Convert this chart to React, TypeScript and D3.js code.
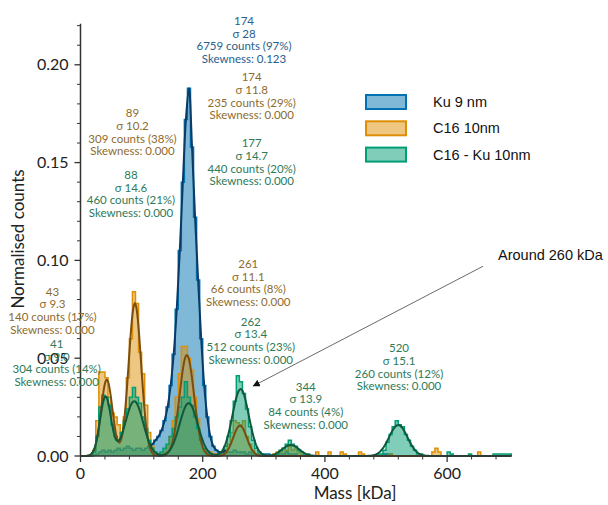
import React from 'react'
import * as d3 from 'd3'

// histogram bins, 5 kDa wide, starting at 0 kDa
const binStarts = d3.range(0, 705, 5)
const binEnd = 705

const kuCounts = [
  0, 0, 0, 0, 0.0005, 0.001, 0.002, 0.003, 0.002, 0.003,
  0.002, 0.003, 0.004, 0.003, 0.004, 0.005, 0.004, 0.003, 0.004, 0.004,
  0.003, 0.004, 0.005, 0.006, 0.008, 0.010, 0.013, 0.018, 0.025, 0.036,
  0.052, 0.075, 0.105, 0.140, 0.172, 0.188, 0.158, 0.122, 0.090, 0.060,
  0.036, 0.020, 0.010, 0.005, 0.003, 0.002, 0.002, 0.003, 0.002, 0.002,
  0.003, 0.002, 0.002, 0.002, 0.001, 0.002, 0.001, 0.001, 0.001, 0.001,
  0.001, 0.001, 0, 0, 0.001, 0.001, 0.001, 0.002, 0.001, 0.001,
  0.001, 0, 0, 0, 0, 0, 0, 0, 0, 0,
  0, 0, 0, 0, 0, 0, 0, 0, 0, 0,
  0, 0, 0, 0, 0, 0, 0, 0, 0, 0.001,
  0.001, 0.001, 0, 0, 0, 0, 0, 0, 0, 0,
  0, 0, 0, 0, 0, 0, 0, 0, 0, 0,
  0, 0, 0, 0, 0, 0, 0, 0, 0, 0,
  0, 0, 0, 0, 0, 0, 0, 0, 0, 0,
  0,
]

const c16Counts = [
  0, 0, 0, 0, 0.003, 0.018, 0.043, 0.043, 0.040, 0.030,
  0.022, 0.020, 0.016, 0.012, 0.020, 0.040, 0.060, 0.084, 0.078, 0.053,
  0.042, 0.026, 0.012, 0.005, 0.002, 0.001, 0.001, 0.002, 0.005, 0.010,
  0.018, 0.030, 0.042, 0.056, 0.056, 0.050, 0.044, 0.030, 0.019, 0.008,
  0.003, 0.002, 0.002, 0.001, 0.001, 0, 0.001, 0.003, 0.006, 0.012,
  0.018, 0.017, 0.016, 0.018, 0.010, 0.006, 0.003, 0.001, 0, 0,
  0, 0, 0, 0.001, 0.002, 0.002, 0.004, 0.003, 0.005, 0.003,
  0.004, 0.002, 0.001, 0, 0, 0, 0, 0.002, 0, 0,
  0, 0.002, 0, 0, 0, 0.002, 0.001, 0, 0, 0,
  0, 0.002, 0.001, 0, 0, 0, 0, 0, 0, 0,
  0, 0.001, 0, 0, 0, 0, 0, 0, 0, 0,
  0, 0, 0, 0, 0, 0.002, 0.004, 0.002, 0, 0,
  0, 0, 0, 0, 0, 0, 0, 0, 0, 0,
  0.002, 0, 0, 0, 0, 0, 0, 0, 0, 0,
  0,
]

const mixCounts = [
  0, 0, 0, 0, 0.002, 0.010, 0.025, 0.031, 0.030, 0.026,
  0.016, 0.010, 0.008, 0.012, 0.018, 0.024, 0.030, 0.035, 0.030, 0.027,
  0.020, 0.014, 0.008, 0.004, 0.002, 0.001, 0.002, 0.004, 0.006, 0.010,
  0.014, 0.020, 0.025, 0.030, 0.038, 0.030, 0.026, 0.020, 0.014, 0.008,
  0.004, 0.002, 0.001, 0, 0, 0.001, 0.002, 0.005, 0.010, 0.018,
  0.028, 0.041, 0.038, 0.032, 0.024, 0.015, 0.008, 0.004, 0.002, 0.001,
  0, 0, 0, 0, 0.001, 0.003, 0.004, 0.006, 0.008, 0.006,
  0.005, 0.003, 0.002, 0.001, 0.001, 0, 0, 0, 0, 0,
  0, 0, 0, 0, 0, 0, 0, 0, 0, 0,
  0, 0, 0, 0, 0, 0, 0, 0.001, 0.001, 0.003,
  0.007, 0.011, 0.015, 0.018, 0.016, 0.015, 0.011, 0.008, 0.005, 0.003,
  0.001, 0.001, 0, 0, 0, 0, 0, 0, 0, 0,
  0.002, 0.001, 0, 0, 0, 0, 0, 0.001, 0, 0,
  0, 0, 0, 0, 0, 0.001, 0.001, 0.001, 0.001, 0.001,
  0.001,
]

// Gaussian fit results (mean, sigma, peak height)
const c16Mean = [43, 89, 174, 261]
const c16Sigma = ['9.3', '10.2', '11.8', '11.1']
const c16Peak = [0.039, 0.078, 0.0516, 0.0155]
const c16Num = [140, 309, 235, 66]
const c16Pct = [17, 38, 29, 8]

const mixMean = [41, 88, 177, 262, 344, 520]
const mixSigma = ['9.0', '14.6', '14.7', '13.4', '13.9', '15.1']
const mixPeak = [0.0303, 0.028, 0.027, 0.0342, 0.0056, 0.0158]
const mixNum = [304, 460, 440, 512, 84, 260]
const mixPct = [14, 21, 20, 23, 4, 12]

const kuMean = 174
const kuSigma = '28'
const kuNum = 6759
const kuPct = 97
const kuSkew = '0.123'

const legendNames = ['Ku 9 nm', 'C16 10nm', 'C16 - Ku 10nm']

const colors = ['#0173b2', '#de8f05', '#029e73']
const fitColors = ['#0c3a66', '#7a4d10', '#10583c']
const textColors = ['#2a5d8c', '#8d6b2e', '#2d7a58']

const x = d3.scaleLinear().domain([0, 705]).range([80.5, 511.3])
const y = d3.scaleLinear().domain([0, 0.221]).range([456, 23.7])

function stepPts(counts: number[]): [number, number][] {
  const pts: [number, number][] = [[0, 0]]
  counts.forEach((c, i) => pts.push([binStarts[i], c]))
  pts.push([binEnd, counts[counts.length - 1]])
  pts.push([binEnd, 0])
  return pts
}

const stepArea = d3.area<[number, number]>()
  .x(d => x(d[0])).y0(y(0)).y1(d => y(d[1])).curve(d3.curveStepAfter)
const stepLine = d3.line<[number, number]>()
  .x(d => x(d[0])).y(d => y(d[1])).curve(d3.curveStepAfter)

function fitPath(mean: number[], sigma: string[], peak: number[]) {
  const xs = d3.range(0, 705.5, 1)
  const pts: [number, number][] = xs.map(v => {
    let s = 0
    mean.forEach((m, i) => {
      const sd = +sigma[i]
      s += peak[i] * Math.exp(-0.5 * ((v - m) / sd) ** 2)
    })
    return [v, s]
  })
  return d3.line<[number, number]>().x(d => x(d[0])).y(d => y(d[1]))(pts)
}

// blue fit follows the main Ku peak
const kuFitPts: [number, number][] = binStarts
  .map((b, i) => [b + 2.5, kuCounts[i]] as [number, number])
  .filter(d => d[0] > 110 && d[0] < 240)
const kuFit = d3.line<[number, number]>().x(d => x(d[0])).y(d => y(d[1]))
  .curve(d3.curveCatmullRom)(kuFitPts)

// annotation anchors in data units (x kDa, y of first line)
const annos = [
  { lines: [`${kuMean}`, `σ ${kuSigma}`, `${kuNum} counts (${kuPct}%)`, `Skewness: ${kuSkew}`], ax: 267.6, ay: 0.2224, c: 0 },
  ...c16Mean.map((m, i) => ({
    lines: [`${m}`, `σ ${c16Sigma[i]}`, `${c16Num[i]} counts (${c16Pct[i]}%)`, 'Skewness: 0.000'],
    ax: [-45.8, 85.1, 280.2, 274.6][i], ay: [0.084, 0.1752, 0.1936, 0.0982][i], c: 1,
  })),
  ...mixMean.map((m, i) => ({
    lines: [`${m}`, `σ ${mixSigma[i]}`, `${mixNum[i]} counts (${mixPct[i]}%)`, 'Skewness: 0.000'],
    ax: [-39, 82.6, 280.2, 278.7, 368.7, 521.3][i], ay: [0.0573, 0.1437, 0.1599, 0.0687, 0.0354, 0.0551][i], c: 2,
  })),
]

const xMajor = [0, 200, 400, 600]
const xMinor = d3.range(40, 705, 40).filter(v => v % 200 !== 0)
const yMajor = [0, 0.05, 0.1, 0.15, 0.2]
const yMinor = d3.range(1, 23).map(v => v / 100).filter(v => Math.round(v * 100) % 5 !== 0)

export default function App() {
  const series = [kuCounts, c16Counts, mixCounts]
  const font = 'Lato, "Open Sans", sans-serif'
  const axisColor = '#333'
  return (
    <svg width={608} height={505} style={{ position: 'absolute', left: 0, top: 0, background: '#fff' }}
      fontFamily={font}>
      <defs>
        <marker id="arrowhead" viewBox="0 0 10 10" refX="9" refY="5" markerWidth="9" markerHeight="9" orient="auto-start-reverse">
          <path d="M0,0 L10,5 L0,10 z" fill="#111" />
        </marker>
      </defs>

      {series.map((s, i) => (
        <g key={i}>
          <path d={stepArea(stepPts(s)) || ''} fill={colors[i]} fillOpacity={0.5} />
          <path d={stepLine(stepPts(s)) || ''} fill="none" stroke={colors[i]} strokeWidth={1.5} />
        </g>
      ))}

      <path d={kuFit || ''} fill="none" stroke={fitColors[0]} strokeWidth={2} />
      <path d={fitPath(c16Mean, c16Sigma, c16Peak) || ''} fill="none" stroke={fitColors[1]} strokeWidth={2} />
      <path d={fitPath(mixMean, mixSigma, mixPeak) || ''} fill="none" stroke={fitColors[2]} strokeWidth={2} />

      {/* axes */}
      <line x1={x(0)} x2={x(0)} y1={y(0)} y2={y(0.221)} stroke={axisColor} strokeWidth={1.5} />
      <line x1={x(0)} x2={x(705)} y1={y(0)} y2={y(0)} stroke={axisColor} strokeWidth={1.5} />
      {xMajor.map(v => (
        <g key={v}>
          <line x1={x(v)} x2={x(v)} y1={y(0)} y2={y(0) + 6} stroke={axisColor} strokeWidth={1.3} />
          <text x={x(v)} y={y(0) + 23} textAnchor="middle" fontSize={16} fill="#222">{v}</text>
        </g>
      ))}
      {xMinor.map(v => (
        <line key={v} x1={x(v)} x2={x(v)} y1={y(0)} y2={y(0) + 3.5} stroke={axisColor} strokeWidth={1} />
      ))}
      {yMajor.map(v => (
        <g key={v}>
          <line x1={x(0) - 6} x2={x(0)} y1={y(v)} y2={y(v)} stroke={axisColor} strokeWidth={1.3} />
          <text x={x(0) - 12} y={y(v) + 5.6} textAnchor="end" fontSize={16} fill="#222">{d3.format('.2f')(v)}</text>
        </g>
      ))}
      {yMinor.map(v => (
        <line key={v} x1={x(0) - 3.5} x2={x(0)} y1={y(v)} y2={y(v)} stroke={axisColor} strokeWidth={1} />
      ))}

      <text x={355} y={499} textAnchor="middle" fontSize={17} fill="#222">Mass [kDa]</text>
      <text transform="translate(24,239) rotate(-90)" textAnchor="middle" fontSize={17} fill="#222">Normalised counts</text>

      {/* fit annotations */}
      {annos.map((a, k) => (
        <text key={k} textAnchor="middle" fontSize={11.5} fill={textColors[a.c]}>
          {a.lines.map((l, j) => (
            <tspan key={j} x={x(a.ax)} y={y(a.ay) + 4 + j * 12.7}>{l}</tspan>
          ))}
        </text>
      ))}

      {/* legend */}
      {legendNames.map((n, i) => (
        <g key={n} transform={`translate(366,${95 + i * 26.3})`}>
          <rect width={40} height={14} fill={colors[i]} fillOpacity={0.5} stroke={colors[i]} strokeWidth={2} />
          <text x={67} y={12} fontSize={14.5} fontFamily='"Liberation Sans", Arial, sans-serif' fill="#111">{n}</text>
        </g>
      ))}

      {/* arrow note */}
      <line x1={x(658.7)} y1={y(0.097)} x2={x(282.8)} y2={y(0.0358)} stroke="#444" strokeWidth={0.8}
        markerEnd="url(#arrowhead)" />
      <text x={498} y={260} fontSize={14.5} fontFamily='"Liberation Sans", Arial, sans-serif' fill="#111">Around 260 kDa</text>
    </svg>
  )
}
